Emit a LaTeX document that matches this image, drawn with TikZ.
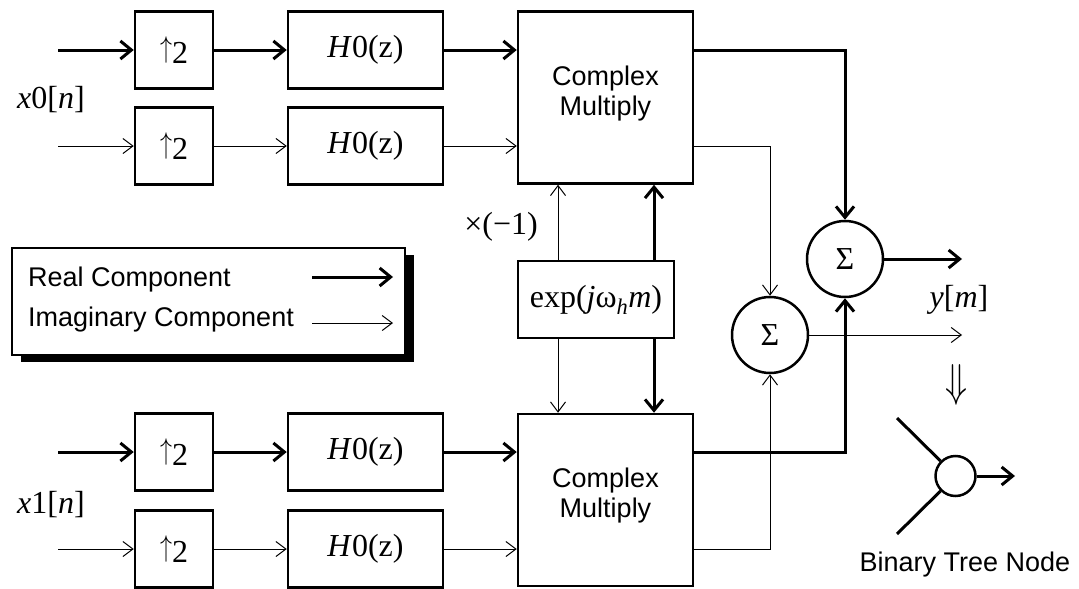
\documentclass[tikz,border=0pt]{standalone}
\usepackage{fontspec}
\setmainfont{Liberation Serif}
\newfontfamily\sansfont{Liberation Sans}
\usetikzlibrary{arrows.meta,calc,shadows}
\newcommand\serifbig{\fontsize{32}{36}\selectfont}
\newcommand\sansmid{\sansfont\fontsize{27}{30}\selectfont}
% tall thin up arrow for the upsampler boxes
\newcommand\upar{{\fontsize{10}{12}\selectfont\scalebox{2.4}[3]{\raisebox{0.194em}{$\uparrow$}}}}

\begin{document}
\begin{tikzpicture}[x=1pt,y=-1pt,
  blk/.style={draw, line width=2.5pt, inner sep=0pt, minimum height=77pt, font=\serifbig},
  upbox/.style={blk, minimum width=78pt},
  filt/.style={blk, minimum width=155pt},
  cmbox/.style={draw, line width=2.5pt, inner sep=0pt, minimum width=175pt, minimum height=172pt},
  sumnode/.style={circle, draw, line width=2.5pt, minimum size=76pt, inner sep=0pt, font=\serifbig},
  lbl/.style={inner sep=0pt, font=\serifbig},
  re/.style={line width=3pt, -{Straight Barb[length=11pt,width=18pt]}},
  im/.style={line width=1pt, -{Straight Barb[length=10pt,width=15pt]}},
  rel/.style={line width=3pt},
]
\useasboundingbox (0,0) rectangle (1079,589);

% upper branch: x0[n]
\node[upbox] (u1) at (174,50) {\upar2};
\node[filt]  (h1) at (365.5,50) {\textit{H}0(z)};
\node[upbox] (u2) at (174,146) {\upar2};
\node[filt]  (h2) at (365.5,146) {\textit{H}0(z)};
\node[cmbox] (cm1) at (605.5,97.5) {};
\node[font=\sansmid, align=center, inner sep=0pt] (cm1t) at ([yshift=4pt]cm1.center) {Complex\\Multiply};
\node[lbl] (x0) at (51,100) {\textit{x}0[\textit{n}]};

% lower branch: x1[n]
\node[upbox] (u3) at (174,452) {\upar2};
\node[filt]  (h3) at (365.5,452) {\textit{H}0(z)};
\node[upbox] (u4) at (174,549) {\upar2};
\node[filt]  (h4) at (365.5,549) {\textit{H}0(z)};
\node[cmbox] (cm2) at (605.5,500) {};
\node[font=\sansmid, align=center, inner sep=0pt] (cm2t) at ([yshift=4pt]cm2.center) {Complex\\Multiply};
\node[lbl] (x1) at (51,505) {\textit{x}1[\textit{n}]};

% modulation
\node[blk, minimum width=156pt] (ex) at (596,299.5) {exp(\textit{j}ω\textsubscript{\textit{h}}\textit{m})};
\node[lbl] (neg) at (501,227) {×(−1)};

% adders
\node[sumnode] (s1) at (845,259) {Σ};
\node[sumnode] (s2) at (770,335) {Σ};
\node[lbl] (ym) at (959,300) {\textit{y}[\textit{m}]};
\coordinate (o1) at (962,259);
\coordinate (o2) at (962,335);

% inputs
\coordinate (i1) at (58,50);
\coordinate (i2) at (58,146);
\coordinate (i3) at (58,452);
\coordinate (i4) at (58,549);

% real paths
\draw[re] (i1) -- (u1);
\draw[re] (u1) -- (h1);
\draw[re] (h1) -- (h1 -| cm1.west);
\draw[re] (i3) -- (u3);
\draw[re] (u3) -- (h3);
\draw[re] (h3) -- (h3 -| cm2.west);
% imaginary paths
\draw[im] (i2) -- (u2);
\draw[im] (u2) -- (h2);
\draw[im] (h2) -- (h2 -| cm1.west);
\draw[im] (i4) -- (u4);
\draw[im] (u4) -- (h4);
\draw[im] (h4) -- (h4 -| cm2.west);

% exp feeds
\draw[im] ([xshift=-38pt]ex.north) -- ([xshift=-38pt]ex.north |- cm1.south);
\draw[re] ([xshift=58pt]ex.north) -- ([xshift=58pt]ex.north |- cm1.south);
\draw[im] ([xshift=-38pt]ex.south) -- ([xshift=-38pt]ex.south |- cm2.north);
\draw[re] ([xshift=58pt]ex.south) -- ([xshift=58pt]ex.south |- cm2.north);

% complex multiply outputs
\draw[re] (h1 -| cm1.east) -| (s1.north);
\draw[im] (h2 -| cm1.east) -| (s2.north);
\draw[re] (h3 -| cm2.east) -| (s1.south);
\draw[im] (h4 -| cm2.east) -| (s2.south);
\draw[re] (s1) -- (o1);
\draw[im] (s2) -- (o2);

% legend
\node[draw, fill=white, line width=2.5pt, minimum width=393pt, minimum height=107pt,
      drop shadow={shadow xshift=9pt, shadow yshift=-7pt, fill=black, opacity=1}] (lg) at (208.5,301.5) {};
\node[anchor=west, font=\sansmid, inner sep=0pt] (lr) at (28,280) {Real Component};
\node[anchor=west, font=\sansmid, inner sep=0pt] (li) at (28,320) {Imaginary Component};
\coordinate (lra) at (312,277);
\coordinate (lrb) at (393,277);
\coordinate (lia) at (312,323);
\coordinate (lib) at (393,323);
\draw[re] (lra) -- (lrb);
\draw[im] (lia) -- (lib);

% binary tree node symbol
\node[inner sep=0pt, font=\fontsize{10}{12}\selectfont] (dn) at (956,385) {\scalebox{3.6}[4.6]{$\Downarrow$}};
\node[circle, draw, line width=2.5pt, minimum size=40pt, inner sep=0pt] (bn) at (955.5,476) {};
\coordinate (bu) at (897,418);
\coordinate (bl) at (897,534);
\coordinate (bo) at (1015,476);
\draw[rel] (bu) -- (bn.135);
\draw[rel] (bl) -- (bn.225);
\draw[re] (bn) -- (bo);
\node[font=\sansmid, inner sep=0pt] (btn) at (965,565) {Binary Tree Node};
\end{tikzpicture}
\end{document}
